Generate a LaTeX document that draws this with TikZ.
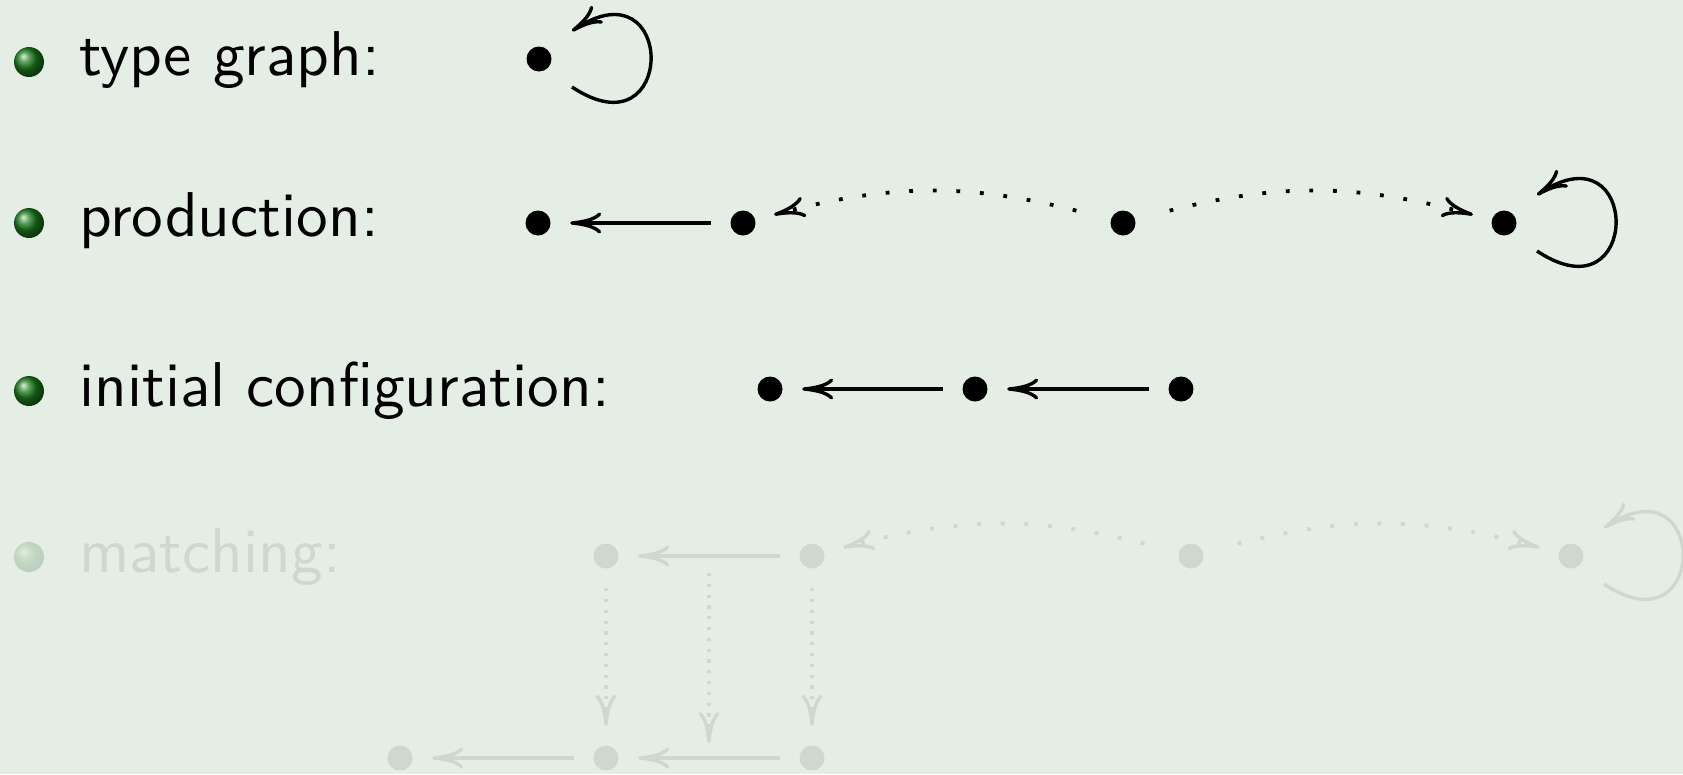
\documentclass[tikz,border=0pt]{standalone}
\usepackage{fontspec}
\newfontfamily\slidefont{lmsans10-regular}[Extension=.otf]
\usetikzlibrary{arrows.meta,calc}
\definecolor{bgc}{RGB}{228,238,228}
\definecolor{fadec}{RGB}{207,216,207}
\definecolor{ballc}{RGB}{30,125,30}
\begin{document}
\begin{tikzpicture}[x=1pt,y=1pt,
  >={Computer Modern Rightarrow[length=31pt,width=21pt,line width=3.4pt]},
  vtx/.style={circle,minimum size=64pt,inner sep=0pt},
  lbl/.style={anchor=base west,inner sep=0pt,font=\slidefont\fontsize{63.3}{72}\selectfont},
  ballb/.style={circle,inner sep=0pt,minimum size=30pt,shading=ball,ball color=ballc},
  edge/.style={->,line width=3.4pt},
  dotedge/.style={->,line width=3.8pt,dash pattern=on 3.8pt off 19.8pt,dash phase=7.6pt},
  vdotedge/.style={->,line width=3.4pt,dash pattern=on 3.2pt off 7.6pt}
]
\fill[bgc] (0,0) rectangle (1683,-774);
\useasboundingbox (0,0) rectangle (1683,-774);

% bullets and labels
\node[ballb] (b1) at (29,-62) {};
\node[ballb] (b2) at (29,-223) {};
\node[ballb] (b3) at (29,-391) {};
\node[ballb,opacity=0.17] (b4) at (29,-557) {};
\node[lbl] (l1) at (79,-75) {type graph:};
\node[lbl] (l2) at (79,-236) {production:};
\node[lbl] (l3) at (79,-406) {initial configuration:};
\node[lbl,text=fadec] (l4) at (79,-572) {matching:};

% vertices
\node[vtx] (t1) at (539,-59) {};
\node[vtx] (p1) at (538,-223) {};
\node[vtx] (p2) at (743,-223) {};
\node[vtx] (p3) at (1123,-223) {};
\node[vtx] (p4) at (1504,-223) {};
\node[vtx] (c1) at (770,-389) {};
\node[vtx] (c2) at (975,-389) {};
\node[vtx] (c3) at (1181,-389) {};
\node[vtx] (m1) at (606,-556) {};
\node[vtx] (m2) at (812,-556) {};
\node[vtx] (m3) at (1191,-556) {};
\node[vtx] (m4) at (1571,-556) {};
\node[vtx] (g1) at (400,-758) {};
\node[vtx] (g2) at (606,-758) {};
\node[vtx] (g3) at (812,-758) {};

\foreach \n in {t1,p1,p2,p3,p4,c1,c2,c3}
  \fill (\n.center) circle (12.5pt);
\foreach \n in {m1,m2,m3,m4,g1,g2,g3}
  \fill[fadec] (\n.center) circle (12.5pt);

% type graph
\draw[edge] ([shift={(33,-28)}]t1.center) .. controls ([shift={(138,-98)}]t1.center) and ([shift={(138,98)}]t1.center) .. ([shift={(33,28)}]t1.center);

% production
\draw[edge] (p2) -- (p1);
\draw[dotedge] (p3) to[bend right=15] (p2);
\draw[dotedge] (p3) to[bend left=15] (p4);
\draw[edge] ([shift={(33,-28)}]p4.center) .. controls ([shift={(138,-98)}]p4.center) and ([shift={(138,98)}]p4.center) .. ([shift={(33,28)}]p4.center);

% initial configuration
\draw[edge] (c2) -- (c1);
\draw[edge] (c3) -- (c2);

% matching (faded)
\begin{scope}[fadec]
\draw[edge] (m2) -- (m1);
\draw[dotedge] (m3) to[bend right=15] (m2);
\draw[dotedge] (m3) to[bend left=15] (m4);
\draw[edge] ([shift={(33,-28)}]m4.center) .. controls ([shift={(138,-98)}]m4.center) and ([shift={(138,98)}]m4.center) .. ([shift={(33,28)}]m4.center);
\draw[edge] (g2) -- (g1);
\draw[edge] (g3) -- (g2);
\coordinate (e1) at ($(m1)!0.5!(m2)$);
\coordinate (e2) at ($(g2)!0.5!(g3)$);
\draw[vdotedge] (m1) -- (g2);
\draw[vdotedge] (m2) -- (g3);
\draw[vdotedge] ([yshift=-17pt]e1) -- ([yshift=15pt]e2);
\end{scope}
\end{tikzpicture}
\end{document}
